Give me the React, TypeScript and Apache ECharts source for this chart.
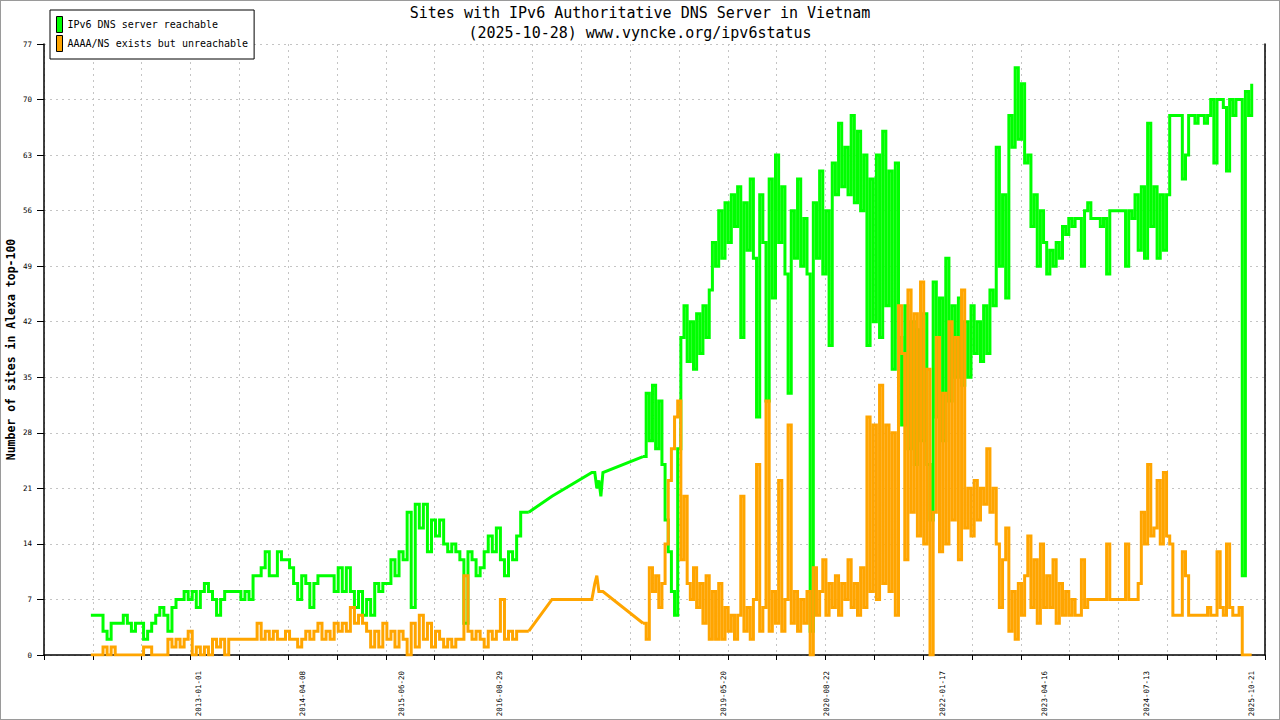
import * as echarts from 'echarts';
import React, { useEffect, useRef } from 'react';

const FONT = '"DejaVu Sans Mono", "Liberation Mono", monospace';
const DAY = 86400000;

// axis range and label dates
const X_MIN = '2011-02-16';
const X_MAX = '2025-12-19';
const X_TICK_COUNT = 25;
const LABEL_DATES = [
  '2013-01-01', '2014-04-08', '2015-06-20', '2016-08-29', '2019-05-20',
  '2020-08-22', '2022-01-17', '2023-04-16', '2024-07-13', '2025-10-21',
];
const Y_TICKS = [0, 7, 14, 21, 28, 35, 42, 49, 56, 63, 70, 77];

const SERIES_NAMES = ['IPv6 DNS server reachable', 'AAAA/NS exists but unreachable'];
const SERIES_COLORS = ['#00ff00', '#ffa500'];

// first period: one sample every 18 days from 2011-09-12
const PERIOD_A_START = '2011-09-12';
const PERIOD_A_STEP = 18;
const reachableA = [
  5, 5, 5, 3, 2, 4, 4, 4, 5, 4,
  3, 4, 4, 2, 3, 4, 5, 6, 5, 3,
  6, 7, 7, 8, 7, 8, 6, 8, 9, 8,
  7, 5, 7, 8, 8, 8, 8, 7, 8, 7,
  10, 10, 11, 13, 10, 10, 13, 12, 12, 11,
  9, 7, 10, 9, 6, 9, 10, 10, 10, 10,
  8, 11, 8, 11, 8, 6, 8, 5, 7, 5,
  9, 8, 9, 9, 12, 10, 13, 12, 18, 6,
  19, 16, 19, 13, 17, 15, 17, 14, 13, 14,
  13, 12, 4, 13, 12, 10, 11, 13, 15, 13,
  16, 12, 10, 13, 12, 15, 18, 18, 18,
];
const unreachableA = [
  0, 0, 0, 1, 0, 1, 0, 0, 0, 0,
  0, 0, 0, 1, 1, 0, 0, 0, 0, 2,
  1, 2, 1, 2, 3, 0, 1, 0, 1, 0,
  2, 1, 2, 0, 2, 2, 2, 2, 2, 2,
  2, 4, 2, 3, 2, 3, 2, 2, 3, 2,
  2, 1, 2, 3, 2, 3, 4, 2, 3, 2,
  4, 3, 4, 3, 6, 4, 5, 4, 3, 1,
  3, 1, 4, 2, 3, 1, 3, 2, 0, 4,
  1, 5, 2, 4, 1, 3, 2, 1, 2, 1,
  2, 2, 10, 3, 2, 3, 2, 1, 3, 2,
  3, 7, 2, 3, 2, 3, 3, 3, 3,
];

// sparse samples in 2017
const gapDates = ['2017-04-20', '2017-10-14', '2017-10-27', '2017-11-05', '2017-11-14', '2017-11-23', '2017-12-02'];
const reachableGap = [20, 23, 23, 21, 22, 20, 23];
const unreachableGap = [7, 7, 9, 10, 8, 8, 8];

// second period: one sample every 14 days from 2018-05-29
const PERIOD_B_START = '2018-05-29';
const PERIOD_B_STEP = 14;
const reachableB = [
  25, 33, 27, 34, 26, 32, 24, 17, 13, 8,
  5, 26, 40, 44, 37, 42, 36, 43, 38, 44,
  40, 46, 52, 49, 56, 50, 57, 52, 58, 54,
  59, 40, 57, 51, 60, 50, 30, 58, 52, 32,
  60, 45, 63, 52, 59, 48, 33, 56, 50, 60,
  49, 55, 48, 3, 57, 50, 61, 48, 56, 39,
  62, 58, 67, 59, 64, 58, 68, 57, 66, 56,
  63, 39, 60, 42, 63, 40, 66, 44, 61, 36,
  62, 40, 29, 44, 26, 42, 24, 41, 27, 43,
  24, 17, 47, 30, 45, 27, 50, 32, 44, 35,
  45, 34, 42, 35, 44, 38, 42, 37, 44, 38,
  46, 44, 64, 49, 58, 45, 68, 64, 74, 65,
  72, 62, 63, 54, 58, 49, 56, 52, 48, 51,
  49, 52, 50, 54, 53, 55, 54, 55, 55, 49,
  56, 57, 55, 55, 55, 54, 55, 48, 56, 56,
  56, 56, 56, 49, 56, 55, 58, 51, 59, 50,
  67, 54, 59, 50, 58, 51, 58, 68, 68, 68,
  68, 60, 63, 68, 68, 67, 68, 68, 67, 68,
  70, 62, 70, 70, 69, 61, 70, 68, 70, 70,
  10, 71, 68, 72,
];
const unreachableB = [
  4, 2, 11, 8, 10, 6, 9, 14, 22, 26,
  30, 32, 12, 20, 9, 7, 11, 6, 9, 4,
  10, 2, 8, 2, 9, 2, 6, 3, 5, 2,
  5, 20, 3, 6, 2, 7, 24, 3, 6, 32,
  3, 8, 4, 22, 3, 7, 29, 4, 8, 3,
  7, 4, 8, 0, 11, 5, 8, 12, 5, 9,
  6, 10, 5, 9, 7, 12, 6, 9, 5, 11,
  6, 30, 8, 29, 7, 34, 9, 29, 8, 28,
  5, 44, 38, 12, 46, 18, 43, 15, 47, 14,
  36, 0, 18, 40, 13, 33, 14, 42, 17, 40,
  12, 46, 16, 21, 15, 22, 17, 21, 19, 26,
  18, 21, 14, 6, 12, 16, 3, 8, 2, 9,
  5, 10, 15, 6, 12, 4, 14, 6, 10, 6,
  12, 4, 9, 5, 8, 5, 7, 5, 5, 12,
  6, 7, 7, 7, 7, 7, 7, 14, 7, 7,
  7, 7, 7, 14, 7, 7, 7, 9, 18, 14,
  24, 15, 16, 22, 14, 23, 15, 14, 5, 5,
  5, 13, 10, 5, 5, 5, 5, 5, 5, 6,
  5, 5, 13, 6, 5, 14, 6, 5, 5, 6,
  0, 0, 0, 0,
];

const utc = (d: string) => Date.parse(d + 'T00:00:00Z');

// dense periods are drawn as steps, the sparse 2017 samples as straight segments
const buildPieces = (a: number[], gap: number[], b: number[]) => {
  const partA = a.map((v, i) => [utc(PERIOD_A_START) + i * PERIOD_A_STEP * DAY, v]);
  const partB = b.map((v, i) => [utc(PERIOD_B_START) + i * PERIOD_B_STEP * DAY, v]);
  const partGap = [
    partA[partA.length - 1],
    ...gap.map((v, i) => [utc(gapDates[i]), v]),
    partB[0],
  ];
  return { partA, partGap, partB };
};

const makeSeries = (idx: number, a: number[], gap: number[], b: number[]): any[] => {
  const { partA, partGap, partB } = buildPieces(a, gap, b);
  const common = {
    name: SERIES_NAMES[idx],
    type: 'line',
    symbol: 'none',
    color: SERIES_COLORS[idx],
    lineStyle: { width: 3, color: SERIES_COLORS[idx], join: 'miter', cap: 'butt' },
    z: 2 + idx,
  };
  return [
    { ...common, step: 'end', data: partA },
    { ...common, data: partGap },
    { ...common, step: 'end', data: partB },
  ];
};

const App: React.FC = () => {
  const chartRef = useRef<HTMLDivElement>(null);

  useEffect(() => {
    if (!chartRef.current) return;
    const chart = echarts.init(chartRef.current, undefined, { renderer: 'svg' });

    const xMin = utc(X_MIN);
    const xMax = utc(X_MAX);
    const tickValues: number[] = [];
    for (let i = 0; i <= X_TICK_COUNT; i++) {
      tickValues.push(xMin + ((xMax - xMin) * i) / X_TICK_COUNT);
    }
    const gridLine = { color: '#c4c4c4', width: 1, type: [2, 4] as number[] };

    const option: echarts.EChartsOption = {
      animation: false,
      backgroundColor: '#fff',
      title: {
        text: 'Sites with IPv6 Authoritative DNS Server in Vietnam\n(2025-10-28) www.vyncke.org/ipv6status',
        left: 'center',
        top: 3,
        padding: 0,
        textStyle: {
          fontFamily: FONT,
          fontSize: 15,
          fontWeight: 'normal',
          color: '#000',
          lineHeight: 20,
        },
      },
      legend: {
        data: SERIES_NAMES,
        orient: 'vertical',
        left: 50,
        top: 10,
        icon: 'rect',
        itemWidth: 6,
        itemHeight: 16,
        itemGap: 2,
        padding: [6, 6, 7, 6],
        borderColor: '#000',
        borderWidth: 1,
        backgroundColor: '#fff',
        itemStyle: { borderColor: '#000', borderWidth: 1 },
        textStyle: { fontFamily: FONT, fontSize: 10, color: '#000' },
      },
      grid: { left: 44, right: 15, top: 44, bottom: 65, outerBoundsMode: 'none' } as any,
      xAxis: {
        type: 'value',
        min: xMin,
        max: xMax,
        axisLine: { onZero: false, lineStyle: { color: '#000', width: 1.5 } },
        axisTick: { customValues: tickValues, length: 5, lineStyle: { color: '#000', width: 1 } },
        axisLabel: {
          customValues: LABEL_DATES.map(utc),
          rotate: 90,
          margin: 16,
          fontFamily: FONT,
          fontSize: 7.5,
          color: '#000',
          formatter: (v: number) => new Date(v).toISOString().slice(0, 10),
        },
        splitLine: { show: true, lineStyle: gridLine },
      } as any,
      yAxis: [
        {
          type: 'value',
          min: Y_TICKS[0],
          max: Y_TICKS[Y_TICKS.length - 1],
          interval: Y_TICKS[1] - Y_TICKS[0],
          name: 'Number of sites in Alexa top-100',
          nameLocation: 'middle',
          nameGap: 27,
          nameMoveOverlap: false,
          nameTextStyle: { fontFamily: FONT, fontSize: 11.5, fontWeight: 'bold', color: '#000' },
          axisLine: { show: true, lineStyle: { color: '#000', width: 1.5 } },
          axisTick: { show: true, length: 7, lineStyle: { color: '#000', width: 1 } },
          axisLabel: { fontFamily: FONT, fontSize: 7.5, color: '#000', margin: 12 },
          splitLine: { show: true, lineStyle: gridLine },
        } as any,
        {
          type: 'value',
          position: 'right',
          min: Y_TICKS[0],
          max: Y_TICKS[Y_TICKS.length - 1],
          interval: Y_TICKS[1] - Y_TICKS[0],
          axisLine: { show: true, lineStyle: { color: '#000', width: 1.5 } },
          axisTick: { show: false },
          axisLabel: { show: false },
          splitLine: { show: false },
        },
      ],
      series: [
        ...makeSeries(0, reachableA, reachableGap, reachableB),
        ...makeSeries(1, unreachableA, unreachableGap, unreachableB),
      ],
      graphic: [
        {
          type: 'rect',
          silent: true,
          shape: { x: 0, y: 0, width: 1280, height: 720 },
          style: { fill: 'none', stroke: '#9a9a9a', lineWidth: 2 },
        },
      ],
    };

    chart.setOption(option);

    const handleResize = () => chart.resize();
    window.addEventListener('resize', handleResize);
    return () => {
      window.removeEventListener('resize', handleResize);
      chart.dispose();
    };
  }, []);

  return (
    <div
      ref={chartRef}
      style={{ position: 'fixed', left: 0, top: 0, width: '1280px', height: '720px' }}
    />
  );
};

export default App;
